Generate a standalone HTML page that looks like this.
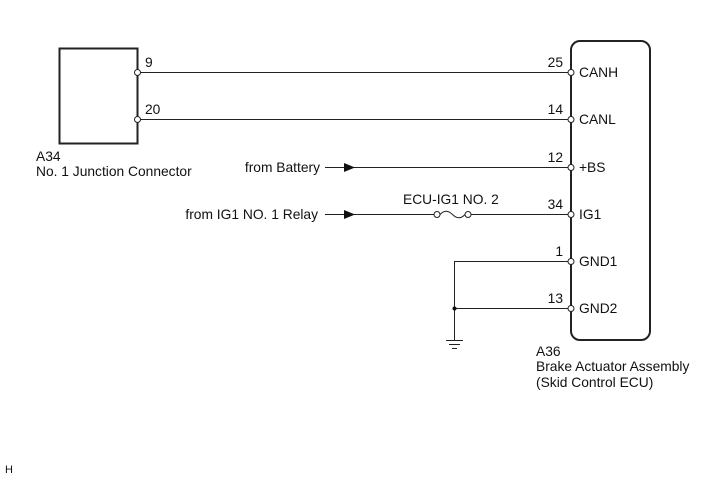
<!DOCTYPE html>
<html><head><meta charset="utf-8"><style>
html,body{margin:0;padding:0;background:#fff;}
svg{display:block}
text{font-family:"Liberation Sans",Arial,sans-serif;font-size:13.8px;fill:#111}
</style></head><body>
<svg width="713" height="481" viewBox="0 0 713 481" xmlns="http://www.w3.org/2000/svg">
<g stroke="#222" fill="none">
<rect x="59.5" y="48.5" width="78" height="95" stroke-width="2"/>
<rect x="571" y="41" width="79" height="299" rx="9" ry="9" stroke-width="2"/>
<g stroke-width="1">
<line x1="140" y1="72.5" x2="568" y2="72.5"/>
<line x1="140" y1="119.5" x2="568" y2="119.5"/>
<line x1="325" y1="167.5" x2="568" y2="167.5"/>
<line x1="325" y1="214.5" x2="434" y2="214.5"/>
<line x1="471" y1="214.5" x2="568" y2="214.5"/>
<path d="M440 214.5 Q446 208 452.5 214.5 Q459 221 465 214.5"/>
<polyline points="568,261.5 454.5,261.5 454.5,340"/>
<line x1="454.5" y1="308.5" x2="568" y2="308.5"/>
<line x1="446" y1="340.5" x2="463" y2="340.5"/>
<line x1="449" y1="344.5" x2="460" y2="344.5"/>
<line x1="452" y1="348.5" x2="457" y2="348.5"/>
</g>
</g>
<g fill="#111">
<polygon points="344,163 355,167.5 344,172"/>
<polygon points="344,210 355,214.5 344,219"/>
<circle cx="454.5" cy="308.5" r="2"/>
</g>
<g fill="#fff" stroke="#222" stroke-width="1">
<circle cx="137.5" cy="72.5" r="3"/>
<circle cx="137.5" cy="119.5" r="3"/>
<circle cx="437" cy="214.5" r="3"/>
<circle cx="468" cy="214.5" r="3"/>
<circle cx="571" cy="72.5" r="3"/>
<circle cx="571" cy="119.5" r="3"/>
<circle cx="571" cy="167.5" r="3"/>
<circle cx="571" cy="214.5" r="3"/>
<circle cx="571" cy="261.5" r="3"/>
<circle cx="571" cy="308.5" r="3"/>
</g>
<text x="145" y="67">9</text>
<text x="145" y="114">20</text>
<text x="36" y="161">A34</text>
<text x="36" y="176">No. 1 Junction Connector</text>
<text x="320" y="172" text-anchor="end">from Battery</text>
<text x="318" y="219" text-anchor="end">from IG1 NO. 1 Relay</text>
<text x="403" y="204">ECU-IG1 NO. 2</text>
<g text-anchor="end">
<text x="563" y="67">25</text>
<text x="563" y="114">14</text>
<text x="563" y="162">12</text>
<text x="563" y="209">34</text>
<text x="563" y="256">1</text>
<text x="563" y="303">13</text>
</g>
<text x="579" y="77">CANH</text>
<text x="579" y="124">CANL</text>
<text x="579" y="172">+BS</text>
<text x="579" y="219">IG1</text>
<text x="579" y="266">GND1</text>
<text x="579" y="313">GND2</text>
<text x="536" y="356">A36</text>
<text x="536" y="371">Brake Actuator Assembly</text>
<text x="536" y="387">(Skid Control ECU)</text>
<text x="5" y="473" style="font-size:11px">H</text>
</svg>
</body></html>
